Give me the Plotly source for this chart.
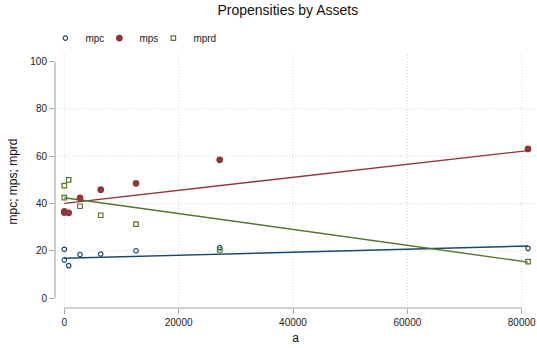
import plotly.graph_objects as go

# Assets and the three propensities (percent) at each asset level
assets = [0, 0, 770, 2750, 6370, 12540, 27180, 81100]
mpc = [20.7, 16.2, 13.8, 18.5, 18.7, 20.1, 21.4, 21.1]
mps = [36.7, 36.2, 36.1, 42.4, 45.9, 48.6, 58.5, 63.1]
mprd = [42.5, 47.6, 50.0, 38.9, 35.1, 31.3, 20.4, 15.5]

# Linear fit lines: value at a = 0 and at the largest asset level
fit_start = {"mpc": 16.9, "mps": 40.1, "mprd": 42.5}
fit_end = {"mpc": 22.1, "mps": 62.4, "mprd": 15.3}

x_ticks = [0, 20000, 40000, 60000, 80000]
y_ticks = [0, 20, 40, 60, 80, 100]

series = [
    ("mpc", mpc, "#1a476f", "circle-open", 4.5),
    ("mps", mps, "#90353b", "circle", 5.5),
    ("mprd", mprd, "#55752f", "square-open", 4.5),
]

font = "Liberation Sans, Arial, sans-serif"
fig = go.Figure()

# fit lines first so the markers sit on top
xs = [min(assets), max(assets)]
for name, vals, color, sym, size in series:
    fig.add_trace(go.Scatter(x=xs, y=[fit_start[name], fit_end[name]], mode="lines",
                             line=dict(color=color, width=1.4),
                             showlegend=False, hoverinfo="skip"))

for name, vals, color, sym, size in series:
    fig.add_trace(go.Scatter(x=assets, y=vals, mode="markers", name=name,
                             marker=dict(symbol=sym, size=size, color=color,
                                         line=dict(color=color, width=1.2))))

# empty spacer entry so the last legend label has room
fig.add_trace(go.Scatter(x=[None], y=[None], mode="markers", name=" ",
                         marker=dict(size=1, color="rgba(0,0,0,0)"),
                         hoverinfo="skip"))

grid = dict(color="#d6d6d6", width=1, dash="1px,2px")
shapes = []
# horizontal grid (interior ticks only)
for v in y_ticks[1:-1]:
    shapes.append(dict(type="line", xref="paper", x0=0, x1=1, yref="y", y0=v, y1=v,
                       line=grid, layer="below"))
# vertical grid
for v in x_ticks:
    shapes.append(dict(type="line", xref="x", x0=v, x1=v, yref="paper", y0=0, y1=1,
                       line=grid, layer="below"))
# axis lines spanning the tick range
axis_col = "#a8a8a8"
shapes.append(dict(type="line", xref="paper", x0=0, x1=0, yref="y",
                   y0=y_ticks[0], y1=y_ticks[-1], line=dict(color=axis_col, width=1.2)))
shapes.append(dict(type="line", xref="x", x0=x_ticks[0], x1=x_ticks[-1], yref="paper",
                   y0=0, y1=0, line=dict(color=axis_col, width=1.2)))

fig.update_layout(
    width=537, height=348,
    margin=dict(l=55, r=1, t=55, b=40),
    paper_bgcolor="white", plot_bgcolor="white",
    font=dict(family=font, color="#222222", size=10),
    title=dict(text="Propensities by Assets", x=0.536, xanchor="center",
               y=0.972, yanchor="middle", font=dict(size=14, color="#111111")),
    showlegend=True,
    legend=dict(orientation="h", x=-0.02, xanchor="left", y=1.067, yanchor="middle",
                font=dict(size=10, color="#222222"), bgcolor="rgba(0,0,0,0)",
                itemwidth=30, entrywidth=9, entrywidthmode="pixels", tracegroupgap=0),
    shapes=shapes,
    xaxis=dict(range=[-1627, 82500], tickvals=x_ticks, ticktext=[str(v) for v in x_ticks],
               showgrid=False, zeroline=False, showline=False,
               ticks="outside", ticklen=5, tickcolor=axis_col,
               tickfont=dict(size=10, color="#222222"),
               title=dict(text="a", font=dict(size=12, color="#111111"), standoff=6)),
    yaxis=dict(range=[-4.1, 102.8], tickvals=y_ticks, ticktext=[str(v) for v in y_ticks],
               showgrid=False, zeroline=False, showline=False,
               ticks="outside", ticklen=5, tickcolor=axis_col,
               tickfont=dict(size=10, color="#222222"),
               title=dict(text="mpc; mps; mprd", font=dict(size=12, color="#111111"),
                          standoff=10)),
)

fig.write_html("out.html")
